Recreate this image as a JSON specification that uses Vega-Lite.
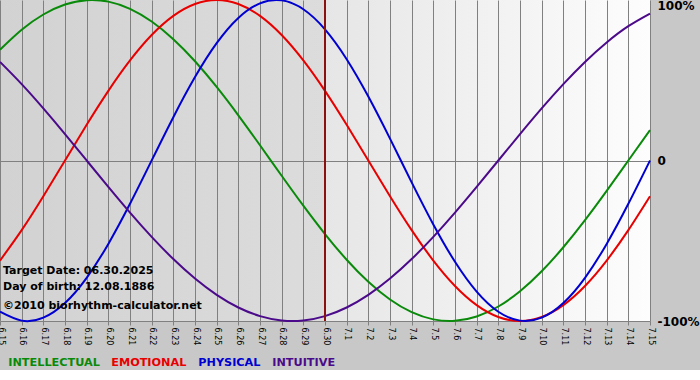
{
  "$schema": "https://vega.github.io/schema/vega-lite/v6.json",
  "width": 650,
  "height": 321,
  "autosize": {"type": "none"},
  "padding": {"left": 0, "top": 0, "right": 50, "bottom": 49},
  "background": "#c8c8c8",
  "view": {"stroke": null, "fill": {"gradient": "linear", "x1": 0, "y1": 0, "x2": 1, "y2": 0, "stops": [{"offset": 0, "color": "#d2d2d2"}, {"offset": 0.5, "color": "#dcdcdc"}, {"offset": 0.5, "color": "#e6e6e6"}, {"offset": 1, "color": "#fdfdfd"}]}},
  "encoding": {
    "x": {
      "field": "d", "type": "temporal",
      "scale": {"type": "utc", "domain": ["2025-06-15", "2025-07-15"], "nice": false, "padding": 0},
      "axis": {
        "orient": "bottom", "title": null,
        "labelExpr": "utcFormat(datum.value, '%-m.%-d')",
        "tickCount": {"interval": "day", "step": 1},
        "labelAngle": 90, "labelFont": "DejaVu Sans", "labelFontSize": 8, "labelColor": "#000000",
        "labelFlush": false, "labelOverlap": false, "labelPadding": 2,
        "tickSize": 4, "tickColor": "#808080", "domainColor": "#808080",
        "grid": true, "gridColor": "#808080", "gridOpacity": 1, "gridWidth": 1
      }
    }
  },
  "layer": [
    {
      "data": {"values": [
        {"d":"2025-06-15","s":"INTELLECTUAL","v":0.6901},{"d":"2025-06-16","s":"INTELLECTUAL","v":0.8146},{"d":"2025-06-17","s":"INTELLECTUAL","v":0.9096},{"d":"2025-06-18","s":"INTELLECTUAL","v":0.9718},{"d":"2025-06-19","s":"INTELLECTUAL","v":0.9989},{"d":"2025-06-20","s":"INTELLECTUAL","v":0.9898},{"d":"2025-06-21","s":"INTELLECTUAL","v":0.9450},{"d":"2025-06-22","s":"INTELLECTUAL","v":0.8660},{"d":"2025-06-23","s":"INTELLECTUAL","v":0.7557},{"d":"2025-06-24","s":"INTELLECTUAL","v":0.6182},{"d":"2025-06-25","s":"INTELLECTUAL","v":0.4582},{"d":"2025-06-26","s":"INTELLECTUAL","v":0.2817},{"d":"2025-06-27","s":"INTELLECTUAL","v":0.0951},{"d":"2025-06-28","s":"INTELLECTUAL","v":-0.0951},{"d":"2025-06-29","s":"INTELLECTUAL","v":-0.2817},{"d":"2025-06-30","s":"INTELLECTUAL","v":-0.4582},{"d":"2025-07-01","s":"INTELLECTUAL","v":-0.6182},{"d":"2025-07-02","s":"INTELLECTUAL","v":-0.7557},{"d":"2025-07-03","s":"INTELLECTUAL","v":-0.8660},{"d":"2025-07-04","s":"INTELLECTUAL","v":-0.9450},{"d":"2025-07-05","s":"INTELLECTUAL","v":-0.9898},{"d":"2025-07-06","s":"INTELLECTUAL","v":-0.9989},{"d":"2025-07-07","s":"INTELLECTUAL","v":-0.9718},{"d":"2025-07-08","s":"INTELLECTUAL","v":-0.9096},{"d":"2025-07-09","s":"INTELLECTUAL","v":-0.8146},{"d":"2025-07-10","s":"INTELLECTUAL","v":-0.6901},{"d":"2025-07-11","s":"INTELLECTUAL","v":-0.5406},{"d":"2025-07-12","s":"INTELLECTUAL","v":-0.3717},{"d":"2025-07-13","s":"INTELLECTUAL","v":-0.1893},{"d":"2025-07-14","s":"INTELLECTUAL","v":0},{"d":"2025-07-15","s":"INTELLECTUAL","v":0.1893},
        {"d":"2025-06-15","s":"EMOTIONAL","v":-0.6235},{"d":"2025-06-16","s":"EMOTIONAL","v":-0.4339},{"d":"2025-06-17","s":"EMOTIONAL","v":-0.2225},{"d":"2025-06-18","s":"EMOTIONAL","v":0},{"d":"2025-06-19","s":"EMOTIONAL","v":0.2225},{"d":"2025-06-20","s":"EMOTIONAL","v":0.4339},{"d":"2025-06-21","s":"EMOTIONAL","v":0.6235},{"d":"2025-06-22","s":"EMOTIONAL","v":0.7818},{"d":"2025-06-23","s":"EMOTIONAL","v":0.9010},{"d":"2025-06-24","s":"EMOTIONAL","v":0.9749},{"d":"2025-06-25","s":"EMOTIONAL","v":1},{"d":"2025-06-26","s":"EMOTIONAL","v":0.9749},{"d":"2025-06-27","s":"EMOTIONAL","v":0.9010},{"d":"2025-06-28","s":"EMOTIONAL","v":0.7818},{"d":"2025-06-29","s":"EMOTIONAL","v":0.6235},{"d":"2025-06-30","s":"EMOTIONAL","v":0.4339},{"d":"2025-07-01","s":"EMOTIONAL","v":0.2225},{"d":"2025-07-02","s":"EMOTIONAL","v":0},{"d":"2025-07-03","s":"EMOTIONAL","v":-0.2225},{"d":"2025-07-04","s":"EMOTIONAL","v":-0.4339},{"d":"2025-07-05","s":"EMOTIONAL","v":-0.6235},{"d":"2025-07-06","s":"EMOTIONAL","v":-0.7818},{"d":"2025-07-07","s":"EMOTIONAL","v":-0.9010},{"d":"2025-07-08","s":"EMOTIONAL","v":-0.9749},{"d":"2025-07-09","s":"EMOTIONAL","v":-1},{"d":"2025-07-10","s":"EMOTIONAL","v":-0.9749},{"d":"2025-07-11","s":"EMOTIONAL","v":-0.9010},{"d":"2025-07-12","s":"EMOTIONAL","v":-0.7818},{"d":"2025-07-13","s":"EMOTIONAL","v":-0.6235},{"d":"2025-07-14","s":"EMOTIONAL","v":-0.4339},{"d":"2025-07-15","s":"EMOTIONAL","v":-0.2225},
        {"d":"2025-06-15","s":"PHYSICAL","v":-0.9423},{"d":"2025-06-16","s":"PHYSICAL","v":-0.9977},{"d":"2025-06-17","s":"PHYSICAL","v":-0.9791},{"d":"2025-06-18","s":"PHYSICAL","v":-0.8879},{"d":"2025-06-19","s":"PHYSICAL","v":-0.7308},{"d":"2025-06-20","s":"PHYSICAL","v":-0.5196},{"d":"2025-06-21","s":"PHYSICAL","v":-0.2698},{"d":"2025-06-22","s":"PHYSICAL","v":0},{"d":"2025-06-23","s":"PHYSICAL","v":0.2698},{"d":"2025-06-24","s":"PHYSICAL","v":0.5196},{"d":"2025-06-25","s":"PHYSICAL","v":0.7308},{"d":"2025-06-26","s":"PHYSICAL","v":0.8879},{"d":"2025-06-27","s":"PHYSICAL","v":0.9791},{"d":"2025-06-28","s":"PHYSICAL","v":0.9977},{"d":"2025-06-29","s":"PHYSICAL","v":0.9423},{"d":"2025-06-30","s":"PHYSICAL","v":0.8170},{"d":"2025-07-01","s":"PHYSICAL","v":0.6311},{"d":"2025-07-02","s":"PHYSICAL","v":0.3984},{"d":"2025-07-03","s":"PHYSICAL","v":0.1362},{"d":"2025-07-04","s":"PHYSICAL","v":-0.1362},{"d":"2025-07-05","s":"PHYSICAL","v":-0.3984},{"d":"2025-07-06","s":"PHYSICAL","v":-0.6311},{"d":"2025-07-07","s":"PHYSICAL","v":-0.8170},{"d":"2025-07-08","s":"PHYSICAL","v":-0.9423},{"d":"2025-07-09","s":"PHYSICAL","v":-0.9977},{"d":"2025-07-10","s":"PHYSICAL","v":-0.9791},{"d":"2025-07-11","s":"PHYSICAL","v":-0.8879},{"d":"2025-07-12","s":"PHYSICAL","v":-0.7308},{"d":"2025-07-13","s":"PHYSICAL","v":-0.5196},{"d":"2025-07-14","s":"PHYSICAL","v":-0.2698},{"d":"2025-07-15","s":"PHYSICAL","v":0},
        {"d":"2025-06-15","s":"INTUITIVE","v":0.6142},{"d":"2025-06-16","s":"INTUITIVE","v":0.4759},{"d":"2025-06-17","s":"INTUITIVE","v":0.3247},{"d":"2025-06-18","s":"INTUITIVE","v":0.1646},{"d":"2025-06-19","s":"INTUITIVE","v":0},{"d":"2025-06-20","s":"INTUITIVE","v":-0.1646},{"d":"2025-06-21","s":"INTUITIVE","v":-0.3247},{"d":"2025-06-22","s":"INTUITIVE","v":-0.4759},{"d":"2025-06-23","s":"INTUITIVE","v":-0.6142},{"d":"2025-06-24","s":"INTUITIVE","v":-0.7357},{"d":"2025-06-25","s":"INTUITIVE","v":-0.8372},{"d":"2025-06-26","s":"INTUITIVE","v":-0.9158},{"d":"2025-06-27","s":"INTUITIVE","v":-0.9694},{"d":"2025-06-28","s":"INTUITIVE","v":-0.9966},{"d":"2025-06-29","s":"INTUITIVE","v":-0.9966},{"d":"2025-06-30","s":"INTUITIVE","v":-0.9694},{"d":"2025-07-01","s":"INTUITIVE","v":-0.9158},{"d":"2025-07-02","s":"INTUITIVE","v":-0.8372},{"d":"2025-07-03","s":"INTUITIVE","v":-0.7357},{"d":"2025-07-04","s":"INTUITIVE","v":-0.6142},{"d":"2025-07-05","s":"INTUITIVE","v":-0.4759},{"d":"2025-07-06","s":"INTUITIVE","v":-0.3247},{"d":"2025-07-07","s":"INTUITIVE","v":-0.1646},{"d":"2025-07-08","s":"INTUITIVE","v":0},{"d":"2025-07-09","s":"INTUITIVE","v":0.1646},{"d":"2025-07-10","s":"INTUITIVE","v":0.3247},{"d":"2025-07-11","s":"INTUITIVE","v":0.4759},{"d":"2025-07-12","s":"INTUITIVE","v":0.6142},{"d":"2025-07-13","s":"INTUITIVE","v":0.7357},{"d":"2025-07-14","s":"INTUITIVE","v":0.8372},{"d":"2025-07-15","s":"INTUITIVE","v":0.9158}
      ]},
      "mark": {"type": "line", "strokeWidth": 2, "interpolate": "natural"},
      "encoding": {
        "y": {
          "field": "v", "type": "quantitative",
          "scale": {"domain": [-1, 1], "nice": false, "zero": false},
          "axis": {
            "orient": "right", "title": null, "values": [-1, 0, 1],
            "labelExpr": "datum.value == 1 ? '100%' : (datum.value == 0 ? '0' : '-100%')",
            "labelFont": "DejaVu Sans", "labelFontSize": 12, "labelFontWeight": "bold", "labelColor": "#000000",
            "labelPadding": 7, "ticks": false, "domain": false,
            "labelBaseline": {"condition": {"test": "datum.value == 1", "value": "top"}, "value": "middle"},
            "grid": true, "gridColor": "#808080", "gridWidth": 1,
            "gridOpacity": {"condition": {"test": "datum.value == 0", "value": 1}, "value": 0}
          }
        },
        "color": {
          "field": "s", "type": "nominal",
          "scale": {"domain": ["INTELLECTUAL", "EMOTIONAL", "PHYSICAL", "INTUITIVE"], "range": ["#0a8a0a", "#e80000", "#0000d0", "#4b0a8a"]},
          "legend": {
            "title": null, "orient": "none", "direction": "horizontal", "legendX": -3, "legendY": 357,
            "symbolSize": 0, "symbolOpacity": 0, "symbolStrokeWidth": 0, "labelOffset": 0, "columnPadding": -9,
            "labelFont": "DejaVu Sans", "labelFontSize": 11.25, "labelFontWeight": "bold",
            "encode": {"labels": {"update": {"fill": {"signal": "scale('color', datum.value)"}}}}
          }
        }
      }
    },
    {
      "data": {"values": [{"d": "2025-06-30"}]},
      "mark": {"type": "rule", "color": "#8b1010", "strokeWidth": 2},
      "encoding": {}
    },
    {
      "data": {"values": [
        {"d": "2025-06-15", "v": -0.688, "t": "Target Date: 06.30.2025"},
        {"d": "2025-06-15", "v": -0.788, "t": "Day of birth: 12.08.1886"},
        {"d": "2025-06-15", "v": -0.907, "t": "©2010 biorhythm-calculator.net"}
      ]},
      "mark": {"type": "text", "align": "left", "baseline": "middle", "dx": 3, "font": "DejaVu Sans", "fontSize": 11, "fontWeight": "bold", "color": "#000000"},
      "encoding": {
        "y": {
          "field": "v", "type": "quantitative",
          "axis": {
            "orient": "right", "title": null, "values": [-1, 0, 1],
            "labelExpr": "datum.value == 1 ? '100%' : (datum.value == 0 ? '0' : '-100%')",
            "labelFont": "DejaVu Sans", "labelFontSize": 12, "labelFontWeight": "bold", "labelColor": "#000000",
            "labelPadding": 7, "ticks": false, "domain": false,
            "labelBaseline": {"condition": {"test": "datum.value == 1", "value": "top"}, "value": "middle"},
            "grid": true, "gridColor": "#808080", "gridWidth": 1,
            "gridOpacity": {"condition": {"test": "datum.value == 0", "value": 1}, "value": 0}
          }
        },
        "text": {"field": "t"}
      }
    }
  ]
}
